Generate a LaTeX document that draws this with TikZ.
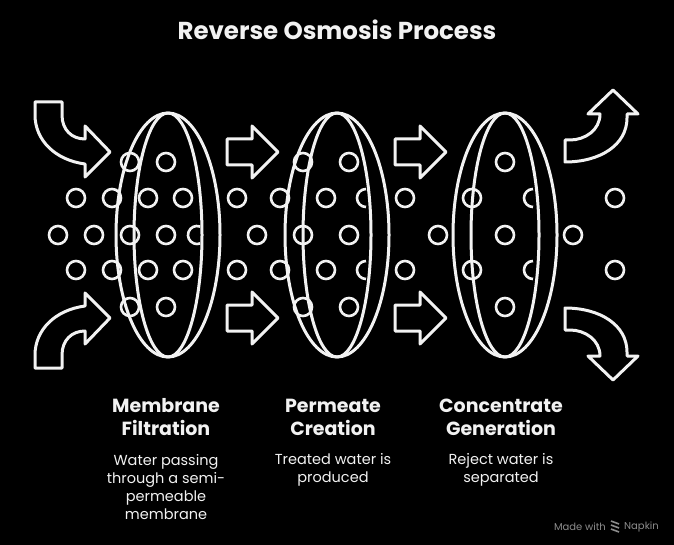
\documentclass[tikz,border=0pt]{standalone}
\usepackage{fontspec}
\setmainfont{Poppins}
\usetikzlibrary{positioning}

\begin{document}
\begin{tikzpicture}
	[x=1pt, y=-1pt,
	outline/.style={draw=white!95!black, line width=3pt, line join=round},
	dotstyle/.style={draw=white!95!black, line width=2.6pt},
	headstyle/.style={text=white!95!black, font=\bfseries\fontsize{19}{23}\selectfont, align=center, inner sep=1pt},
	descstyle/.style={text=white!95!black, font=\fontsize{14.5}{18}\selectfont, align=center, inner sep=1pt}
	]
	
	%Set params
	\def\discy{235}
	\def\discrx{52}
	\def\innerrx{34}
	\def\discry{122}
	\def\dotr{9}
	
	\fill[black] (0,0) rectangle (674,545);
	\useasboundingbox (0,0) rectangle (674,545);
	
	\node(Title)[text=white!95!black, font=\bfseries\fontsize{24.5}{28}\selectfont] at (337,30) {Reverse Osmosis Process};
	
	%Discs
	\foreach \cx in {168,337,505} {
		\draw[outline] (\cx,\discy) ellipse [x radius=\discrx pt, y radius=\discry pt];
		\draw[outline] (\cx,\discy) ellipse [x radius=\innerrx pt, y radius=\discry pt];
	}
	
	%Water particles
	\foreach \px in {130,166,303,349,505} {
		\draw[dotstyle] (\px,162) circle [radius=\dotr pt];
		\draw[dotstyle] (\px,307) circle [radius=\dotr pt];
	}
	\foreach \px in {76,112,148,183,237,280,326,405,472,615} {
		\draw[dotstyle] (\px,198) circle [radius=\dotr pt];
		\draw[dotstyle] (\px,270) circle [radius=\dotr pt];
	}
	\foreach \px in {58,94,130,166,257,303,349,438,505,573}
		\draw[dotstyle] (\px,235) circle [radius=\dotr pt];
	%half hidden by the rim
	\foreach \px/\py/\sa in {197/235/70, 366/198/90, 366/270/90, 533/198/90, 533/270/90}
		\draw[dotstyle] (\px,\py) ++(\sa:\dotr pt) arc [start angle=\sa, end angle=360-\sa, radius=\dotr pt];
	
	%Straight arrows
	\foreach \ax in {227,395}
		\foreach \ay in {152,318}
			\draw[outline] (\ax,\ay-13) -- (\ax+25,\ay-13) -- (\ax+25,\ay-26) -- (\ax+51,\ay)
				-- (\ax+25,\ay+26) -- (\ax+25,\ay+13) -- (\ax,\ay+13) -- cycle;
	
	%Feed arrows
	\draw[outline] (35,102) -- (62,102) -- (62,115) .. controls (62,130) and (72,139) .. (85,139)
		-- (85,126) -- (110,152) -- (85,177) -- (85,164) .. controls (55,160) and (35,140) .. (35,115) -- cycle;
	\draw[outline] (35,368) -- (62,368) -- (62,355) .. controls (62,340) and (72,331) .. (85,331)
		-- (85,344) -- (110,318) -- (85,293) -- (85,306) .. controls (55,310) and (35,330) .. (35,355) -- cycle;
	
	%Reject arrows
	\draw[outline] (565,140) -- (565,162) .. controls (600,162) and (627,145) .. (627,118) -- (627,114)
		-- (638,114) -- (613,90) -- (588,114) -- (600,114) .. controls (600,130) and (585,140) .. (570,140) -- cycle;
	\draw[outline] (565,330) -- (565,308) .. controls (600,308) and (627,325) .. (627,352) -- (627,356)
		-- (638,356) -- (613,380) -- (588,356) -- (600,356) .. controls (600,340) and (585,330) .. (570,330) -- cycle;
	
	%Labels
	\node(MemHead)[headstyle] at (166,417) {Membrane\\Filtration};
	\node(PermHead)[headstyle] at (333,417) {Permeate\\Creation};
	\node(ConcHead)[headstyle] at (501,417) {Concentrate\\Generation};
	
	\node(MemDesc)[descstyle, below = 16pt of MemHead] {Water passing\\through a semi-\\permeable\\membrane};
	\node(PermDesc)[descstyle, below = 16pt of PermHead] {Treated water is\\produced};
	\node(ConcDesc)[descstyle, below = 16pt of ConcHead] {Reject water is\\separated};
	
	%Footer
	\node(MadeWith)[text=black!45, font=\fontsize{10}{12}\selectfont, anchor=east, inner sep=0pt] at (606,527) {Made with};
	\node(Napkin)[text=black!45, font=\fontsize{10}{12}\selectfont, anchor=west, inner sep=0pt] at (624,527) {Napkin};
	\foreach \ly in {521,525,529}
		\draw[black!45, line width=1.6pt] (611,\ly) -- (619,\ly+3);
	
\end{tikzpicture}
\end{document}
